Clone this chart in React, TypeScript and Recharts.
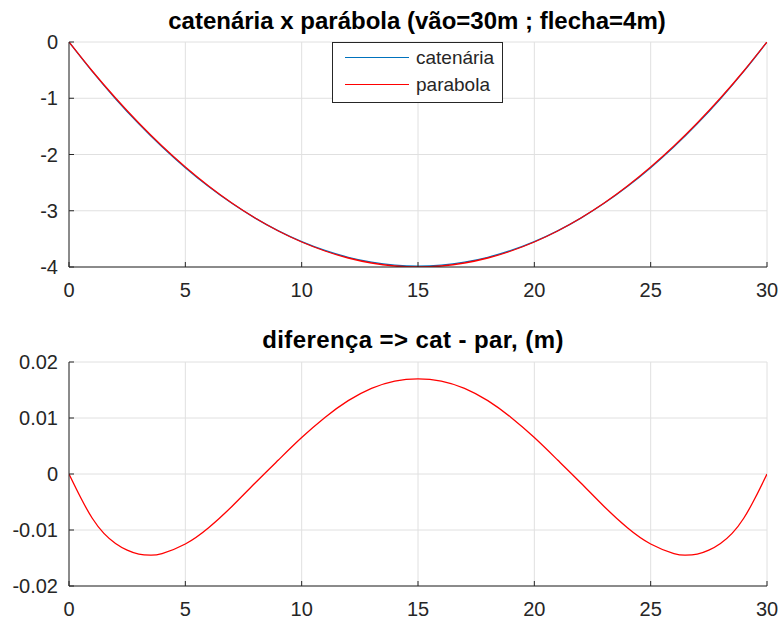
import React from 'react';
import { LineChart, Line, XAxis, YAxis, CartesianGrid, Legend } from 'recharts';

const xs = [0, 1, 2, 3, 4, 5, 6, 7, 8, 9, 10, 11, 12, 13, 14, 15, 16, 17, 18, 19, 20, 21, 22, 23, 24, 25, 26, 27, 28, 29, 30];
const catenaria = [0, -0.5235, -1.008, -1.4543, -1.8631, -2.2347, -2.5696, -2.868, -3.1305, -3.3575, -3.5491, -3.7055, -3.8269, -3.9136, -3.9656, -3.983, -3.9656, -3.9136, -3.8269, -3.7055, -3.5491, -3.3575, -3.1305, -2.868, -2.5696, -2.2347, -1.8631, -1.4543, -1.008, -0.5235, 0];
const parabola = [0, -0.5156, -0.9956, -1.44, -1.8489, -2.2222, -2.56, -2.8622, -3.1289, -3.36, -3.5556, -3.7156, -3.84, -3.9289, -3.9822, -4, -3.9822, -3.9289, -3.84, -3.7156, -3.5556, -3.36, -3.1289, -2.8622, -2.56, -2.2222, -1.8489, -1.44, -0.9956, -0.5156, 0];

const xsDiff = [0, 0.5, 1, 1.5, 2, 2.5, 3, 3.5, 4, 5, 6, 7, 8, 9, 10, 11, 12, 13, 14, 15, 16, 17, 18, 19, 20, 21, 22, 23, 24, 25, 26, 26.5, 27, 27.5, 28, 28.5, 29, 29.5, 30];
const diferenca = [0, -0.0042, -0.0079, -0.0106, -0.0124, -0.0136, -0.0143, -0.0145, -0.0142, -0.0125, -0.0096, -0.0058, -0.0016, 0.0025, 0.0065, 0.0101, 0.0131, 0.0153, 0.0166, 0.017, 0.0166, 0.0153, 0.0131, 0.0101, 0.0065, 0.0025, -0.0016, -0.0058, -0.0096, -0.0125, -0.0142, -0.0145, -0.0143, -0.0136, -0.0124, -0.0106, -0.0079, -0.0042, 0];

const xTicks = [0, 5, 10, 15, 20, 25, 30];
const yTicksTop = [-4, -3, -2, -1, 0];
const yTicksBottom = [-0.02, -0.01, 0, 0.01, 0.02];

const titleTop = 'catenária x parábola (vão=30m ; flecha=4m)';
const titleBottom = 'diferença => cat - par, (m)';

const topData = xs.map((x, i) => ({ x, catenaria: catenaria[i], parabola: parabola[i] }));
const bottomData = xsDiff.map((x, i) => ({ x, diferenca: diferenca[i] }));

const FONT = '"Liberation Sans", Arial, sans-serif';
const AX = '#262626';
const GRID = '#e0e0e0';
const tickStyle = { fontSize: 20, fontFamily: FONT, fill: AX };
const emptyTick = () => <g />;

const LegendBox = (props: any) => {
  const payload = props.payload || [];
  return (
    <div style={{ width: 171, height: 61, boxSizing: 'border-box', border: `1px solid ${AX}`, background: '#fff', position: 'relative', fontFamily: FONT, fontSize: 19, color: AX }}>
      {payload.map((p: any, i: number) => (
        <div key={i} style={{ position: 'absolute', left: 0, top: 4 + i * 27, height: 22, width: 171 }}>
          <div style={{ position: 'absolute', left: 12, top: 10, width: 64, height: 0, borderTop: `1.5px solid ${p.color}` }} />
          <div style={{ position: 'absolute', left: 83, top: 0, lineHeight: '22px', whiteSpace: 'nowrap' }}>{p.value}</div>
        </div>
      ))}
    </div>
  );
};

function axes(yDomain: number[], yTicks: number[]) {
  return [
    <XAxis key="xb" xAxisId="b" dataKey="x" type="number" domain={[0, 30]} ticks={xTicks} allowDataOverflow orientation="bottom" height={30} stroke={AX} tick={tickStyle} tickSize={-5} tickMargin={21} interval={0} />,
    <XAxis key="xt" xAxisId="t" dataKey="x" type="number" domain={[0, 30]} ticks={xTicks} allowDataOverflow orientation="top" height={0} stroke={AX} tick={emptyTick} tickSize={-5} interval={0} />,
    <YAxis key="yl" yAxisId="l" type="number" domain={yDomain} ticks={yTicks} allowDataOverflow orientation="left" width={60} stroke={AX} tick={tickStyle} tickSize={-5} tickMargin={16} interval={0} />,
    <YAxis key="yr" yAxisId="r" type="number" domain={yDomain} ticks={yTicks} allowDataOverflow orientation="right" width={0} stroke={AX} tick={emptyTick} tickSize={-5} interval={0} />,
  ];
}

export default function App() {
  return (
    <div style={{ position: 'absolute', left: 0, top: 0, width: 782, height: 621, background: '#fff' }}>
      <div style={{ position: 'absolute', left: 0, top: 0 }}>
        <LineChart width={782} height={310} data={topData} margin={{ top: 42, right: 15, left: 9, bottom: 13 }}>
          <CartesianGrid xAxisId="b" yAxisId="l" stroke={GRID} horizontalValues={yTicksTop} verticalValues={xTicks} />
          {axes([-4, 0], yTicksTop)}
          <Line xAxisId="b" yAxisId="l" dataKey="catenaria" name="catenária" type="natural" stroke="#0072BD" strokeWidth={1.3} dot={false} isAnimationActive={false} />
          <Line xAxisId="b" yAxisId="l" dataKey="parabola" name="parabola" type="natural" stroke="#FF0000" strokeWidth={1.3} dot={false} isAnimationActive={false} />
          <Legend layout="vertical" align="center" verticalAlign="middle" content={<LegendBox />} wrapperStyle={{ left: 332, top: 42, width: 171, height: 61 }} />
        </LineChart>
      </div>
      <div style={{ position: 'absolute', left: 0, top: 310 }}>
        <LineChart width={782} height={311} data={bottomData} margin={{ top: 52, right: 15, left: 9, bottom: 5 }}>
          <CartesianGrid xAxisId="b" yAxisId="l" stroke={GRID} horizontalValues={yTicksBottom} verticalValues={xTicks} />
          {axes([-0.02, 0.02], yTicksBottom)}
          <Line xAxisId="b" yAxisId="l" dataKey="diferenca" name="diferença" type="natural" stroke="#FF0000" strokeWidth={1.3} dot={false} isAnimationActive={false} />
        </LineChart>
      </div>
      <svg width={782} height={621} style={{ position: 'absolute', left: 0, top: 0, pointerEvents: 'none' }}>
        <text x={417} y={29} textAnchor="middle" fontFamily={FONT} fontWeight="bold" fontSize={24} fill="#000">{titleTop}</text>
        <text x={413} y={348} textAnchor="middle" fontFamily={FONT} fontWeight="bold" fontSize={24} letterSpacing={0.4} fill="#000">{titleBottom}</text>
      </svg>
    </div>
  );
}
